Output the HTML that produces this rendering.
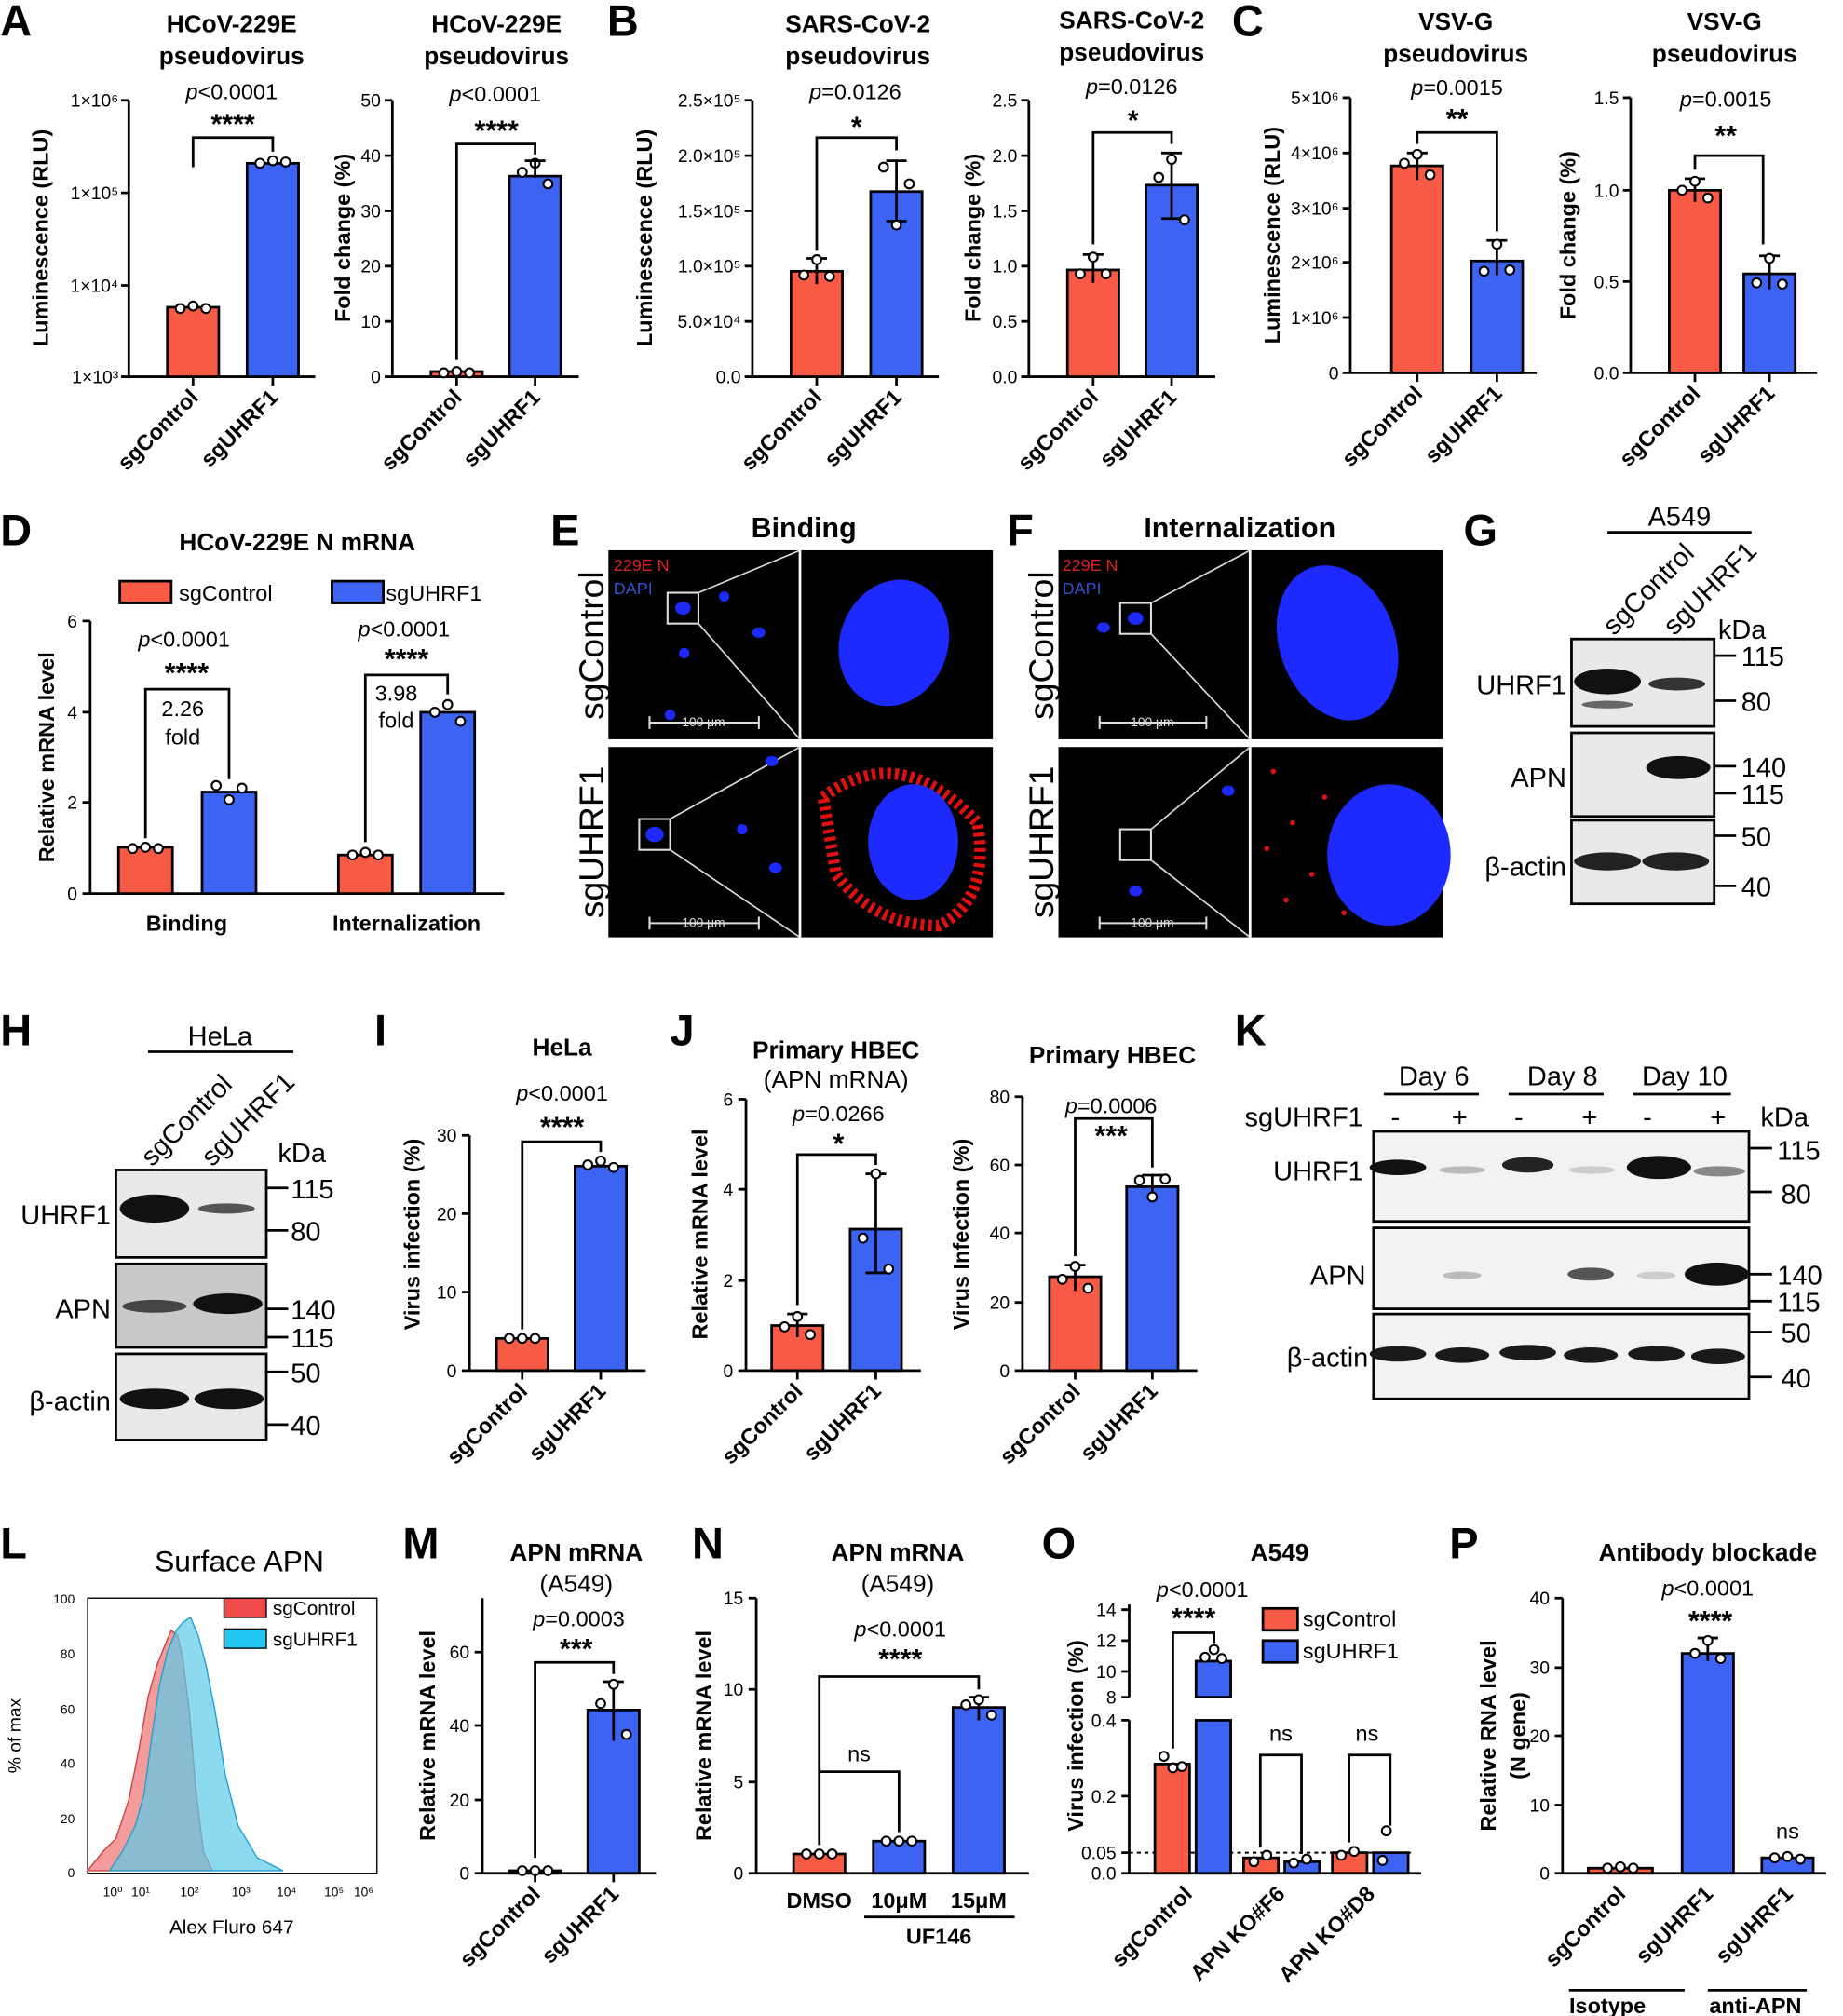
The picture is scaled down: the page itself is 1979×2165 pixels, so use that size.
<!DOCTYPE html>
<html><head><meta charset="utf-8"><style>
html,body{margin:0;padding:0;background:#fff}
svg{display:block}
text{font-family:"Liberation Sans",Arial,sans-serif;fill:#000}
.L{font-size:34px;font-weight:bold}
.t{font-size:19px;font-weight:bold}
.tk{font-size:14px}
.yl{font-size:17px;font-weight:bold}
.xl{font-size:17px;font-weight:bold}
.p{font-size:17px}
.s{font-size:22px;font-weight:bold}
.ax{stroke:#000;stroke-width:2;fill:none}
.r{fill:#f75b45;stroke:#000;stroke-width:2}
.b{fill:#3d63f2;stroke:#000;stroke-width:2}
.d{fill:#fff;stroke:#000;stroke-width:1.5}
.bl{font-size:21px}
</style></head><body>
<svg width="1979" height="2165" viewBox="0 0 1433 1568" xmlns="http://www.w3.org/2000/svg">
<!-- ================= A ================= -->
<text class="L" x="0" y="28">A</text>
<text class="t" x="180" y="25" text-anchor="middle">HCoV-229E</text>
<text class="t" x="180" y="50" text-anchor="middle">pseudovirus</text>
<path class="ax" d="M100 78V293H245M94 78H100M94 150H100M94 222H100M94 293H100"/>
<text class="tk" x="92" y="83" text-anchor="end">1×10⁶</text>
<text class="tk" x="92" y="155" text-anchor="end">1×10⁵</text>
<text class="tk" x="92" y="227" text-anchor="end">1×10⁴</text>
<text class="tk" x="92" y="298" text-anchor="end">1×10³</text>
<text class="yl" transform="translate(37,185) rotate(-90)" text-anchor="middle">Luminescence (RLU)</text>
<rect class="r" x="130" y="239" width="40" height="54"/><rect class="b" x="192" y="127" width="40" height="166"/>
<circle class="d" cx="140" cy="240" r="3.5"/><circle class="d" cx="150" cy="238" r="3.5"/><circle class="d" cx="160" cy="240" r="3.5"/>
<circle class="d" cx="202" cy="127" r="3.5"/><circle class="d" cx="212" cy="125" r="3.5"/><circle class="d" cx="222" cy="126" r="3.5"/>
<path class="ax" d="M150 130V107H212V118M150 293V300M212 293V300"/>
<text class="p" x="180" y="77" text-anchor="middle"><tspan font-style="italic">p</tspan>&lt;0.0001</text>
<text class="s" x="181" y="104" text-anchor="middle">****</text>
<text class="xl" transform="translate(155,310) rotate(-45)" text-anchor="end">sgControl</text>
<text class="xl" transform="translate(217,310) rotate(-45)" text-anchor="end">sgUHRF1</text>

<text class="t" x="386" y="25" text-anchor="middle">HCoV-229E</text>
<text class="t" x="386" y="50" text-anchor="middle">pseudovirus</text>
<path class="ax" d="M305 78V293H450M299 78H305M299 121H305M299 164H305M299 207H305M299 250H305M299 293H305"/>
<text class="tk" x="296" y="83" text-anchor="end">50</text><text class="tk" x="296" y="126" text-anchor="end">40</text><text class="tk" x="296" y="169" text-anchor="end">30</text><text class="tk" x="296" y="212" text-anchor="end">20</text><text class="tk" x="296" y="255" text-anchor="end">10</text><text class="tk" x="296" y="298" text-anchor="end">0</text>
<text class="yl" transform="translate(272,185) rotate(-90)" text-anchor="middle">Fold change (%)</text>
<rect class="r" x="335" y="289" width="40" height="4"/><rect class="b" x="396" y="137" width="40" height="156"/>
<circle class="d" cx="345" cy="290" r="3.5"/><circle class="d" cx="355" cy="289" r="3.5"/><circle class="d" cx="365" cy="290" r="3.5"/>
<circle class="d" cx="406" cy="134" r="3.5"/><circle class="d" cx="416" cy="127" r="3.5"/><circle class="d" cx="426" cy="143" r="3.5"/>
<path class="ax" d="M408 125H424M416 125V137"/>
<path class="ax" d="M355 280V112H416V120M355 293V300M416 293V300"/>
<text class="p" x="385" y="79" text-anchor="middle"><tspan font-style="italic">p</tspan>&lt;0.0001</text>
<text class="s" x="386" y="109" text-anchor="middle">****</text>
<text class="xl" transform="translate(360,310) rotate(-45)" text-anchor="end">sgControl</text>
<text class="xl" transform="translate(421,310) rotate(-45)" text-anchor="end">sgUHRF1</text>

<!-- ================= B ================= -->
<text class="L" x="472" y="28">B</text>
<text class="t" x="667" y="25" text-anchor="middle">SARS-CoV-2</text>
<text class="t" x="667" y="50" text-anchor="middle">pseudovirus</text>
<path class="ax" d="M585 78V293H730M579 78H585M579 121H585M579 164H585M579 207H585M579 250H585M579 293H585"/>
<text class="tk" x="576" y="83" text-anchor="end">2.5×10⁵</text><text class="tk" x="576" y="126" text-anchor="end">2.0×10⁵</text><text class="tk" x="576" y="169" text-anchor="end">1.5×10⁵</text><text class="tk" x="576" y="212" text-anchor="end">1.0×10⁵</text><text class="tk" x="576" y="255" text-anchor="end">5.0×10⁴</text><text class="tk" x="576" y="298" text-anchor="end">0.0</text>
<text class="yl" transform="translate(507,185) rotate(-90)" text-anchor="middle">Luminescence (RLU)</text>
<rect class="r" x="615" y="211" width="40" height="82"/><rect class="b" x="677" y="149" width="40" height="144"/>
<path class="ax" d="M627 201H643M635 201V221M689 125H705M697 125V172M689 172H705"/>
<circle class="d" cx="625" cy="214" r="3.5"/><circle class="d" cx="635" cy="202" r="3.5"/><circle class="d" cx="645" cy="215" r="3.5"/>
<circle class="d" cx="687" cy="130" r="3.5"/><circle class="d" cx="697" cy="175" r="3.5"/><circle class="d" cx="707" cy="143" r="3.5"/>
<path class="ax" d="M635 195V107H697V117M635 293V300M697 293V300"/>
<text class="p" x="665" y="77" text-anchor="middle"><tspan font-style="italic">p</tspan>=0.0126</text>
<text class="s" x="666" y="106" text-anchor="middle">*</text>
<text class="xl" transform="translate(640,310) rotate(-45)" text-anchor="end">sgControl</text>
<text class="xl" transform="translate(702,310) rotate(-45)" text-anchor="end">sgUHRF1</text>

<text class="t" x="880" y="22" text-anchor="middle">SARS-CoV-2</text>
<text class="t" x="880" y="47" text-anchor="middle">pseudovirus</text>
<path class="ax" d="M800 78V293H945M794 78H800M794 121H800M794 164H800M794 207H800M794 250H800M794 293H800"/>
<text class="tk" x="791" y="83" text-anchor="end">2.5</text><text class="tk" x="791" y="126" text-anchor="end">2.0</text><text class="tk" x="791" y="169" text-anchor="end">1.5</text><text class="tk" x="791" y="212" text-anchor="end">1.0</text><text class="tk" x="791" y="255" text-anchor="end">0.5</text><text class="tk" x="791" y="298" text-anchor="end">0.0</text>
<text class="yl" transform="translate(762,185) rotate(-90)" text-anchor="middle">Fold change (%)</text>
<rect class="r" x="830" y="210" width="40" height="83"/><rect class="b" x="891" y="144" width="40" height="149"/>
<path class="ax" d="M842 198H858M850 198V220M903 119H919M911 119V170M903 170H919"/>
<circle class="d" cx="840" cy="213" r="3.5"/><circle class="d" cx="850" cy="200" r="3.5"/><circle class="d" cx="860" cy="213" r="3.5"/>
<circle class="d" cx="901" cy="138" r="3.5"/><circle class="d" cx="911" cy="124" r="3.5"/><circle class="d" cx="921" cy="171" r="3.5"/>
<path class="ax" d="M850 190V103H911V112M850 293V300M911 293V300"/>
<text class="p" x="880" y="73" text-anchor="middle"><tspan font-style="italic">p</tspan>=0.0126</text>
<text class="s" x="881" y="101" text-anchor="middle">*</text>
<text class="xl" transform="translate(855,310) rotate(-45)" text-anchor="end">sgControl</text>
<text class="xl" transform="translate(916,310) rotate(-45)" text-anchor="end">sgUHRF1</text>

<!-- ================= C ================= -->
<text class="L" x="958" y="28">C</text>
<text class="t" x="1132" y="23" text-anchor="middle">VSV-G</text>
<text class="t" x="1132" y="48" text-anchor="middle">pseudovirus</text>
<path class="ax" d="M1050 76V290H1195M1044 76H1050M1044 119H1050M1044 162H1050M1044 204H1050M1044 247H1050M1044 290H1050"/>
<text class="tk" x="1041" y="81" text-anchor="end">5×10⁶</text><text class="tk" x="1041" y="124" text-anchor="end">4×10⁶</text><text class="tk" x="1041" y="167" text-anchor="end">3×10⁶</text><text class="tk" x="1041" y="209" text-anchor="end">2×10⁶</text><text class="tk" x="1041" y="252" text-anchor="end">1×10⁶</text><text class="tk" x="1041" y="295" text-anchor="end">0</text>
<text class="yl" transform="translate(995,183) rotate(-90)" text-anchor="middle">Luminescence (RLU)</text>
<rect class="r" x="1082" y="129" width="40" height="161"/><rect class="b" x="1144" y="203" width="40" height="87"/>
<path class="ax" d="M1094 119H1110M1102 119V140M1156 187H1172M1164 187V214"/>
<circle class="d" cx="1092" cy="127" r="3.5"/><circle class="d" cx="1102" cy="120" r="3.5"/><circle class="d" cx="1112" cy="136" r="3.5"/>
<circle class="d" cx="1154" cy="211" r="3.5"/><circle class="d" cx="1164" cy="190" r="3.5"/><circle class="d" cx="1174" cy="210" r="3.5"/>
<path class="ax" d="M1102 112V103H1164V180M1102 290V297M1164 290V297"/>
<text class="p" x="1133" y="74" text-anchor="middle"><tspan font-style="italic">p</tspan>=0.0015</text>
<text class="s" x="1133" y="100" text-anchor="middle">**</text>
<text class="xl" transform="translate(1107,307) rotate(-45)" text-anchor="end">sgControl</text>
<text class="xl" transform="translate(1169,307) rotate(-45)" text-anchor="end">sgUHRF1</text>

<text class="t" x="1341" y="23" text-anchor="middle">VSV-G</text>
<text class="t" x="1341" y="48" text-anchor="middle">pseudovirus</text>
<path class="ax" d="M1268 76V290H1413M1262 76H1268M1262 148H1268M1262 219H1268M1262 290H1268"/>
<text class="tk" x="1259" y="81" text-anchor="end">1.5</text><text class="tk" x="1259" y="153" text-anchor="end">1.0</text><text class="tk" x="1259" y="224" text-anchor="end">0.5</text><text class="tk" x="1259" y="295" text-anchor="end">0.0</text>
<text class="yl" transform="translate(1225,183) rotate(-90)" text-anchor="middle">Fold change (%)</text>
<rect class="r" x="1298" y="148" width="40" height="142"/><rect class="b" x="1356" y="213" width="40" height="77"/>
<path class="ax" d="M1310 139H1326M1318 139V157M1368 199H1384M1376 199V225"/>
<circle class="d" cx="1308" cy="148" r="3.5"/><circle class="d" cx="1318" cy="141" r="3.5"/><circle class="d" cx="1328" cy="154" r="3.5"/>
<circle class="d" cx="1366" cy="220" r="3.5"/><circle class="d" cx="1376" cy="201" r="3.5"/><circle class="d" cx="1386" cy="221" r="3.5"/>
<path class="ax" d="M1318 132V121H1371V190M1318 290V297M1376 290V297"/>
<text class="p" x="1342" y="83" text-anchor="middle"><tspan font-style="italic">p</tspan>=0.0015</text>
<text class="s" x="1342" y="113" text-anchor="middle">**</text>
<text class="xl" transform="translate(1323,307) rotate(-45)" text-anchor="end">sgControl</text>
<text class="xl" transform="translate(1381,307) rotate(-45)" text-anchor="end">sgUHRF1</text>

<!-- ================= D ================= -->
<text class="L" x="0" y="424">D</text>
<text class="t" x="231" y="428" text-anchor="middle">HCoV-229E N mRNA</text>
<rect class="r" x="93" y="452" width="40" height="17"/><text class="p" x="139" y="467">sgControl</text>
<rect class="b" x="258" y="452" width="40" height="17"/><text class="p" x="300" y="467">sgUHRF1</text>
<path class="ax" d="M70 483V695H392M64 483H70M64 554H70M64 624H70M64 695H70"/>
<text class="tk" x="60" y="488" text-anchor="end">6</text><text class="tk" x="60" y="559" text-anchor="end">4</text><text class="tk" x="60" y="629" text-anchor="end">2</text><text class="tk" x="60" y="700" text-anchor="end">0</text>
<text class="yl" transform="translate(42,589) rotate(-90)" text-anchor="middle">Relative mRNA level</text>
<rect class="r" x="92" y="659" width="42" height="36"/><rect class="b" x="157" y="616" width="42" height="79"/>
<rect class="r" x="263" y="665" width="42" height="30"/><rect class="b" x="327" y="554" width="42" height="141"/>
<circle class="d" cx="103" cy="660" r="3.5"/><circle class="d" cx="113" cy="659" r="3.5"/><circle class="d" cx="123" cy="660" r="3.5"/>
<circle class="d" cx="168" cy="611" r="3.5"/><circle class="d" cx="178" cy="622" r="3.5"/><circle class="d" cx="188" cy="613" r="3.5"/>
<circle class="d" cx="274" cy="665" r="3.5"/><circle class="d" cx="284" cy="663" r="3.5"/><circle class="d" cx="294" cy="665" r="3.5"/>
<circle class="d" cx="338" cy="554" r="3.5"/><circle class="d" cx="348" cy="548" r="3.5"/><circle class="d" cx="358" cy="561" r="3.5"/>
<path class="ax" d="M113 652V536H178V606M284 655V525H348V540"/>
<text class="p" x="142" y="557" text-anchor="middle">2.26</text><text class="p" x="142" y="579" text-anchor="middle">fold</text>
<text class="p" x="308" y="545" text-anchor="middle">3.98</text><text class="p" x="308" y="566" text-anchor="middle">fold</text>
<text class="p" x="143" y="503" text-anchor="middle"><tspan font-style="italic">p</tspan>&lt;0.0001</text>
<text class="s" x="145" y="531" text-anchor="middle">****</text>
<text class="p" x="314" y="495" text-anchor="middle"><tspan font-style="italic">p</tspan>&lt;0.0001</text>
<text class="s" x="316" y="520" text-anchor="middle">****</text>
<text class="xl" x="145" y="724" text-anchor="middle">Binding</text>
<text class="xl" x="316" y="724" text-anchor="middle">Internalization</text>

<!-- ================= E ================= -->
<text class="L" x="428" y="424">E</text>
<text class="t" x="625" y="418" text-anchor="middle" style="font-size:22px">Binding</text>
<rect x="473" y="428" width="299" height="147" fill="#000"/>
<rect x="473" y="581" width="299" height="148" fill="#000"/>
<line x1="622" y1="428" x2="622" y2="729" stroke="#fff" stroke-width="2"/>
<text x="477" y="444" style="font-size:13px;fill:#e02020">229E N</text>
<text x="477" y="462" style="font-size:13px;fill:#3050d0">DAPI</text>
<rect x="519" y="461" width="24" height="24" fill="none" stroke="#ddd" stroke-width="1.5"/>
<path d="M543 461L622 428M543 485L622 575" stroke="#ddd" stroke-width="1.2"/>
<ellipse cx="531" cy="473" rx="6" ry="5" fill="#1c2aff"/><ellipse cx="563" cy="464" rx="4" ry="4" fill="#1c2aff"/><ellipse cx="590" cy="492" rx="5" ry="4" fill="#1c2aff"/><ellipse cx="532" cy="508" rx="4" ry="4" fill="#1c2aff"/><ellipse cx="521" cy="556" rx="4" ry="4" fill="#1c2aff"/>
<ellipse cx="695" cy="500" rx="42" ry="50" fill="#1c2aff" transform="rotate(20 695 500)"/>
<path d="M505 562H590M505 557V567M590 557V567" stroke="#ddd" stroke-width="1.5"/>
<text x="547" y="565" text-anchor="middle" style="font-size:10px;fill:#ddd">100 μm</text>
<rect x="497" y="637" width="24" height="24" fill="none" stroke="#ddd" stroke-width="1.5"/>
<path d="M521 637L622 581M521 661L622 729" stroke="#ddd" stroke-width="1.2"/>
<ellipse cx="509" cy="649" rx="7" ry="6" fill="#1c2aff"/><ellipse cx="600" cy="592" rx="5" ry="4" fill="#1c2aff"/><ellipse cx="577" cy="645" rx="4" ry="4" fill="#1c2aff"/><ellipse cx="603" cy="675" rx="5" ry="4" fill="#1c2aff"/>
<path d="M640 620Q700 575 760 640Q770 700 730 720Q680 720 650 680Z" fill="none" stroke="#e01010" stroke-width="9" stroke-dasharray="3 3"/>
<ellipse cx="710" cy="655" rx="35" ry="45" fill="#1c2aff"/>
<path d="M505 718H590M505 713V723M590 713V723" stroke="#ddd" stroke-width="1.5"/>
<text x="547" y="721" text-anchor="middle" style="font-size:10px;fill:#ddd">100 μm</text>
<text transform="translate(469,502) rotate(-90)" text-anchor="middle" style="font-size:27px">sgControl</text>
<text transform="translate(469,655) rotate(-90)" text-anchor="middle" style="font-size:27px">sgUHRF1</text>

<!-- ================= F ================= -->
<text class="L" x="783" y="424">F</text>
<text class="t" x="964" y="418" text-anchor="middle" style="font-size:22px">Internalization</text>
<rect x="823" y="428" width="299" height="147" fill="#000"/>
<rect x="823" y="581" width="299" height="148" fill="#000"/>
<line x1="972" y1="428" x2="972" y2="729" stroke="#fff" stroke-width="2"/>
<text x="826" y="444" style="font-size:13px;fill:#e02020">229E N</text>
<text x="826" y="462" style="font-size:13px;fill:#3050d0">DAPI</text>
<rect x="871" y="469" width="24" height="24" fill="none" stroke="#ddd" stroke-width="1.5"/>
<path d="M895 469L972 428M895 493L972 575" stroke="#ddd" stroke-width="1.2"/>
<ellipse cx="883" cy="481" rx="6" ry="5" fill="#1c2aff"/><ellipse cx="858" cy="488" rx="5" ry="4" fill="#1c2aff"/>
<ellipse cx="1040" cy="500" rx="45" ry="62" fill="#1c2aff" transform="rotate(-20 1040 500)"/>
<path d="M855 562H938M855 557V567M938 557V567" stroke="#ddd" stroke-width="1.5"/>
<text x="896" y="565" text-anchor="middle" style="font-size:10px;fill:#ddd">100 μm</text>
<rect x="871" y="645" width="24" height="24" fill="none" stroke="#ddd" stroke-width="1.5"/>
<path d="M895 645L972 581M895 669L972 729" stroke="#ddd" stroke-width="1.2"/>
<ellipse cx="955" cy="615" rx="5" ry="4" fill="#1c2aff"/><ellipse cx="883" cy="693" rx="5" ry="4" fill="#1c2aff"/>
<ellipse cx="1080" cy="665" rx="48" ry="55" fill="#1c2aff"/>
<g fill="#e01010"><circle cx="990" cy="600" r="2"/><circle cx="1005" cy="640" r="2"/><circle cx="1030" cy="620" r="2"/><circle cx="1000" cy="700" r="2"/><circle cx="1045" cy="710" r="2"/><circle cx="985" cy="660" r="2"/><circle cx="1020" cy="680" r="2"/></g>
<path d="M855 718H938M855 713V723M938 713V723" stroke="#ddd" stroke-width="1.5"/>
<text x="896" y="721" text-anchor="middle" style="font-size:10px;fill:#ddd">100 μm</text>
<text transform="translate(819,502) rotate(-90)" text-anchor="middle" style="font-size:27px">sgControl</text>
<text transform="translate(819,655) rotate(-90)" text-anchor="middle" style="font-size:27px">sgUHRF1</text>

<!-- ================= G ================= -->
<text class="L" x="1138" y="424">G</text>
<text class="bl" x="1306" y="409" text-anchor="middle">A549</text>
<line x1="1250" y1="414" x2="1362" y2="414" stroke="#000" stroke-width="2"/>
<text class="bl" transform="translate(1255,495) rotate(-45)">sgControl</text>
<text class="bl" transform="translate(1302,495) rotate(-45)">sgUHRF1</text>
<text class="bl" x="1336" y="497">kDa</text>
<rect x="1222" y="497" width="111" height="68" fill="#e9e9e9" stroke="#000" stroke-width="2"/>
<rect x="1222" y="570" width="111" height="65" fill="#e9e9e9" stroke="#000" stroke-width="2"/>
<rect x="1222" y="638" width="111" height="65" fill="#e9e9e9" stroke="#000" stroke-width="2"/>
<ellipse cx="1250" cy="530" rx="26" ry="10" fill="#111"/><ellipse cx="1250" cy="548" rx="20" ry="3" fill="#666"/><ellipse cx="1304" cy="532" rx="22" ry="5" fill="#333"/>
<ellipse cx="1305" cy="597" rx="25" ry="9" fill="#111"/>
<ellipse cx="1250" cy="670" rx="26" ry="7" fill="#222"/><ellipse cx="1303" cy="670" rx="26" ry="7" fill="#222"/>
<text class="bl" x="1218" y="540" text-anchor="end">UHRF1</text>
<text class="bl" x="1218" y="612" text-anchor="end">APN</text>
<text class="bl" x="1218" y="681" text-anchor="end">β-actin</text>
<path class="ax" d="M1333 510H1350M1333 545H1350M1333 596H1350M1333 617H1350M1333 650H1350M1333 689H1350"/>
<text class="bl" x="1354" y="518">115</text><text class="bl" x="1354" y="553">80</text><text class="bl" x="1354" y="604">140</text><text class="bl" x="1354" y="625">115</text><text class="bl" x="1354" y="658">50</text><text class="bl" x="1354" y="697">40</text>

<!-- ================= H ================= -->
<text class="L" x="0" y="813">H</text>
<text class="bl" x="171" y="813" text-anchor="middle">HeLa</text>
<line x1="115" y1="818" x2="228" y2="818" stroke="#000" stroke-width="2"/>
<text class="bl" transform="translate(118,908) rotate(-45)">sgControl</text>
<text class="bl" transform="translate(165,908) rotate(-45)">sgUHRF1</text>
<text class="bl" x="216" y="904">kDa</text>
<rect x="90" y="910" width="117" height="68" fill="#e9e9e9" stroke="#000" stroke-width="2"/>
<rect x="90" y="983" width="117" height="65" fill="#c9c9c9" stroke="#000" stroke-width="2"/>
<rect x="90" y="1053" width="117" height="67" fill="#e9e9e9" stroke="#000" stroke-width="2"/>
<ellipse cx="120" cy="940" rx="27" ry="11" fill="#111"/><ellipse cx="176" cy="940" rx="22" ry="4" fill="#555"/>
<ellipse cx="120" cy="1016" rx="25" ry="5" fill="#444"/><ellipse cx="177" cy="1014" rx="27" ry="8" fill="#111"/>
<ellipse cx="120" cy="1088" rx="27" ry="8" fill="#111"/><ellipse cx="178" cy="1088" rx="27" ry="8" fill="#111"/>
<text class="bl" x="86" y="952" text-anchor="end">UHRF1</text>
<text class="bl" x="86" y="1025" text-anchor="end">APN</text>
<text class="bl" x="86" y="1097" text-anchor="end">β-actin</text>
<path class="ax" d="M207 924H224M207 957H224M207 1018H224M207 1040H224M207 1067H224M207 1108H224"/>
<text class="bl" x="226" y="932">115</text><text class="bl" x="226" y="965">80</text><text class="bl" x="226" y="1026">140</text><text class="bl" x="226" y="1048">115</text><text class="bl" x="226" y="1075">50</text><text class="bl" x="226" y="1116">40</text>

<!-- ================= I ================= -->
<text class="L" x="291" y="813">I</text>
<text class="t" x="437" y="821" text-anchor="middle">HeLa</text>
<path class="ax" d="M365 883V1066H502M359 883H365M359 944H365M359 1005H365M359 1066H365"/>
<text class="tk" x="355" y="888" text-anchor="end">30</text><text class="tk" x="355" y="949" text-anchor="end">20</text><text class="tk" x="355" y="1010" text-anchor="end">10</text><text class="tk" x="355" y="1071" text-anchor="end">0</text>
<text class="yl" transform="translate(326,960) rotate(-90)" text-anchor="middle">Virus infection (%)</text>
<rect class="r" x="386" y="1041" width="40" height="25"/><rect class="b" x="447" y="907" width="40" height="159"/>
<circle class="d" cx="396" cy="1041" r="3.5"/><circle class="d" cx="406" cy="1041" r="3.5"/><circle class="d" cx="416" cy="1041" r="3.5"/>
<circle class="d" cx="457" cy="906" r="3.5"/><circle class="d" cx="467" cy="903" r="3.5"/><circle class="d" cx="477" cy="908" r="3.5"/>
<path class="ax" d="M406 1034V888H467V896M406 1066V1073M467 1066V1073"/>
<text class="p" x="437" y="856" text-anchor="middle"><tspan font-style="italic">p</tspan>&lt;0.0001</text>
<text class="s" x="437" y="884" text-anchor="middle">****</text>
<text class="xl" transform="translate(411,1083) rotate(-45)" text-anchor="end">sgControl</text>
<text class="xl" transform="translate(472,1083) rotate(-45)" text-anchor="end">sgUHRF1</text>

<!-- ================= J ================= -->
<text class="L" x="521" y="813">J</text>
<text class="t" x="650" y="823" text-anchor="middle">Primary HBEC</text>
<text class="p" x="650" y="846" text-anchor="middle" style="font-size:19px">(APN mRNA)</text>
<path class="ax" d="M580 855V1066H716M574 855H580M574 925H580M574 996H580M574 1066H580"/>
<text class="tk" x="570" y="860" text-anchor="end">6</text><text class="tk" x="570" y="930" text-anchor="end">4</text><text class="tk" x="570" y="1001" text-anchor="end">2</text><text class="tk" x="570" y="1071" text-anchor="end">0</text>
<text class="yl" transform="translate(550,960) rotate(-90)" text-anchor="middle">Relative mRNA level</text>
<rect class="r" x="600" y="1031" width="40" height="35"/><rect class="b" x="661" y="956" width="40" height="110"/>
<path class="ax" d="M612 1022H628M620 1022V1040M673 913H689M681 913V990M673 990H689"/>
<circle class="d" cx="610" cy="1032" r="3.5"/><circle class="d" cx="620" cy="1024" r="3.5"/><circle class="d" cx="630" cy="1038" r="3.5"/>
<circle class="d" cx="671" cy="963" r="3.5"/><circle class="d" cx="681" cy="913" r="3.5"/><circle class="d" cx="691" cy="987" r="3.5"/>
<path class="ax" d="M620 1015V898H681V906M620 1066V1073M681 1066V1073"/>
<text class="p" x="652" y="872" text-anchor="middle"><tspan font-style="italic">p</tspan>=0.0266</text>
<text class="s" x="652" y="897" text-anchor="middle">*</text>
<text class="xl" transform="translate(625,1083) rotate(-45)" text-anchor="end">sgControl</text>
<text class="xl" transform="translate(686,1083) rotate(-45)" text-anchor="end">sgUHRF1</text>

<text class="t" x="865" y="827" text-anchor="middle">Primary HBEC</text>
<path class="ax" d="M795 853V1066H931M789 853H795M789 906H795M789 959H795M789 1013H795M789 1066H795"/>
<text class="tk" x="785" y="858" text-anchor="end">80</text><text class="tk" x="785" y="911" text-anchor="end">60</text><text class="tk" x="785" y="964" text-anchor="end">40</text><text class="tk" x="785" y="1018" text-anchor="end">20</text><text class="tk" x="785" y="1071" text-anchor="end">0</text>
<text class="yl" transform="translate(753,960) rotate(-90)" text-anchor="middle">Virus Infection (%)</text>
<rect class="r" x="816" y="993" width="40" height="73"/><rect class="b" x="876" y="923" width="40" height="143"/>
<path class="ax" d="M828 984H844M836 984V1004M888 914H904M896 914V932"/>
<circle class="d" cx="826" cy="995" r="3.5"/><circle class="d" cx="836" cy="985" r="3.5"/><circle class="d" cx="846" cy="1002" r="3.5"/>
<circle class="d" cx="886" cy="918" r="3.5"/><circle class="d" cx="896" cy="931" r="3.5"/><circle class="d" cx="906" cy="917" r="3.5"/>
<path class="ax" d="M836 977V870H896V908M836 1066V1073M896 1066V1073"/>
<text class="p" x="864" y="866" text-anchor="middle"><tspan font-style="italic">p</tspan>=0.0006</text>
<text class="s" x="864" y="891" text-anchor="middle">***</text>
<text class="xl" transform="translate(841,1083) rotate(-45)" text-anchor="end">sgControl</text>
<text class="xl" transform="translate(901,1083) rotate(-45)" text-anchor="end">sgUHRF1</text>

<!-- ================= K ================= -->
<text class="L" x="960" y="813">K</text>
<text class="bl" x="1115" y="844" text-anchor="middle">Day 6</text>
<text class="bl" x="1215" y="844" text-anchor="middle">Day 8</text>
<text class="bl" x="1310" y="844" text-anchor="middle">Day 10</text>
<path class="ax" d="M1076 851H1150M1173 851H1247M1270 851H1346"/>
<text class="bl" x="1060" y="876" text-anchor="end">sgUHRF1</text>
<text class="bl" x="1085" y="876" text-anchor="middle">-</text><text class="bl" x="1135" y="876" text-anchor="middle">+</text>
<text class="bl" x="1181" y="876" text-anchor="middle">-</text><text class="bl" x="1236" y="876" text-anchor="middle">+</text>
<text class="bl" x="1281" y="876" text-anchor="middle">-</text><text class="bl" x="1336" y="876" text-anchor="middle">+</text>
<text class="bl" x="1369" y="876">kDa</text>
<rect x="1068" y="880" width="292" height="70" fill="#f2f2f2" stroke="#000" stroke-width="2"/>
<rect x="1068" y="955" width="292" height="63" fill="#f2f2f2" stroke="#000" stroke-width="2"/>
<rect x="1068" y="1022" width="292" height="66" fill="#f2f2f2" stroke="#000" stroke-width="2"/>
<ellipse cx="1087" cy="908" rx="22" ry="6" fill="#111"/><ellipse cx="1137" cy="910" rx="18" ry="3" fill="#bbb"/>
<ellipse cx="1188" cy="906" rx="20" ry="6" fill="#222"/><ellipse cx="1238" cy="910" rx="18" ry="3" fill="#ccc"/>
<ellipse cx="1290" cy="908" rx="25" ry="9" fill="#111"/><ellipse cx="1337" cy="911" rx="20" ry="4" fill="#888"/>
<ellipse cx="1137" cy="992" rx="15" ry="3" fill="#bbb"/><ellipse cx="1237" cy="991" rx="18" ry="5" fill="#555"/>
<ellipse cx="1288" cy="992" rx="15" ry="3" fill="#ccc"/><ellipse cx="1335" cy="991" rx="25" ry="9" fill="#111"/>
<g fill="#1a1a1a"><ellipse cx="1087" cy="1053" rx="22" ry="6"/><ellipse cx="1137" cy="1054" rx="21" ry="6"/><ellipse cx="1188" cy="1052" rx="22" ry="6"/><ellipse cx="1237" cy="1054" rx="21" ry="6"/><ellipse cx="1288" cy="1053" rx="22" ry="6"/><ellipse cx="1336" cy="1055" rx="21" ry="6"/></g>
<text class="bl" x="1060" y="918" text-anchor="end">UHRF1</text>
<text class="bl" x="1062" y="999" text-anchor="end">APN</text>
<text class="bl" x="1064" y="1063" text-anchor="end">β-actin</text>
<path class="ax" d="M1360 893H1378M1360 927H1378M1360 991H1378M1360 1012H1378M1360 1036H1378M1360 1071H1378"/>
<text class="bl" x="1382" y="902">115</text><text class="bl" x="1385" y="936">80</text><text class="bl" x="1382" y="999">140</text><text class="bl" x="1382" y="1020">115</text><text class="bl" x="1385" y="1044">50</text><text class="bl" x="1385" y="1079">40</text>

<!-- ================= L ================= -->
<text class="L" x="0" y="1212">L</text>
<text x="186" y="1222" text-anchor="middle" style="font-size:23px">Surface APN</text>
<rect x="68" y="1243" width="225" height="214" fill="none" stroke="#000" stroke-width="1"/>
<g class="tk" style="font-size:10px"><text x="58" y="1247" text-anchor="end" style="font-size:10px">100</text><text x="58" y="1290" text-anchor="end" style="font-size:10px">80</text><text x="58" y="1333" text-anchor="end" style="font-size:10px">60</text><text x="58" y="1375" text-anchor="end" style="font-size:10px">40</text><text x="58" y="1418" text-anchor="end" style="font-size:10px">20</text><text x="58" y="1460" text-anchor="end" style="font-size:10px">0</text></g>
<text transform="translate(16,1350) rotate(-90)" text-anchor="middle" style="font-size:14px">% of max</text>
<path d="M68 1455L80 1440L90 1430L100 1400L108 1360L115 1320L122 1295L128 1280L133 1268L138 1272L142 1290L147 1330L152 1390L158 1440L165 1455Z" fill="#f07a7a" fill-opacity="0.75" stroke="#d04040"/>
<path d="M85 1455L95 1440L105 1420L112 1395L118 1350L124 1310L130 1285L137 1268L142 1262L148 1258L154 1272L160 1295L167 1330L175 1380L185 1420L200 1445L220 1455Z" fill="#5ccbe8" fill-opacity="0.7" stroke="#20a0d0"/>
<g style="font-size:10px"><text x="80" y="1475" style="font-size:10px">10⁰</text><text x="102" y="1475" style="font-size:10px">10¹</text><text x="140" y="1475" style="font-size:10px">10²</text><text x="180" y="1475" style="font-size:10px">10³</text><text x="215" y="1475" style="font-size:10px">10⁴</text><text x="252" y="1475" style="font-size:10px">10⁵</text><text x="275" y="1475" style="font-size:10px">10⁶</text></g>
<text x="180" y="1504" text-anchor="middle" style="font-size:15px">Alex Fluro 647</text>
<rect x="174" y="1243" width="33" height="15" fill="#f04a4a" stroke="#000"/><text x="212" y="1256" style="font-size:15px">sgControl</text>
<rect x="174" y="1267" width="33" height="15" fill="#22c6f0" stroke="#000"/><text x="212" y="1280" style="font-size:15px">sgUHRF1</text>

<!-- ================= M ================= -->
<text class="L" x="313" y="1212">M</text>
<text class="t" x="448" y="1214" text-anchor="middle">APN mRNA</text>
<text class="p" x="448" y="1238" text-anchor="middle" style="font-size:19px">(A549)</text>
<path class="ax" d="M375 1243V1457H510M369 1285H375M369 1342H375M369 1400H375M369 1457H375"/>
<text class="tk" x="365" y="1290" text-anchor="end">60</text><text class="tk" x="365" y="1347" text-anchor="end">40</text><text class="tk" x="365" y="1405" text-anchor="end">20</text><text class="tk" x="365" y="1462" text-anchor="end">0</text>
<text class="yl" transform="translate(338,1350) rotate(-90)" text-anchor="middle">Relative mRNA level</text>
<rect class="r" x="396" y="1455" width="40" height="2"/><rect class="b" x="457" y="1330" width="40" height="127"/>
<path class="ax" d="M469 1308H485M477 1308V1354"/>
<circle class="d" cx="406" cy="1455" r="3.5"/><circle class="d" cx="416" cy="1455" r="3.5"/><circle class="d" cx="426" cy="1455" r="3.5"/>
<circle class="d" cx="467" cy="1325" r="3.5"/><circle class="d" cx="477" cy="1310" r="3.5"/><circle class="d" cx="487" cy="1349" r="3.5"/>
<path class="ax" d="M416 1445V1293H477V1302M416 1457V1464M477 1457V1464"/>
<text class="p" x="450" y="1265" text-anchor="middle"><tspan font-style="italic">p</tspan>=0.0003</text>
<text class="s" x="448" y="1290" text-anchor="middle">***</text>
<text class="xl" transform="translate(421,1474) rotate(-45)" text-anchor="end">sgControl</text>
<text class="xl" transform="translate(482,1474) rotate(-45)" text-anchor="end">sgUHRF1</text>

<!-- ================= N ================= -->
<text class="L" x="538" y="1212">N</text>
<text class="t" x="698" y="1214" text-anchor="middle">APN mRNA</text>
<text class="p" x="698" y="1238" text-anchor="middle" style="font-size:19px">(A549)</text>
<path class="ax" d="M588 1243V1457H800M582 1243H588M582 1314H588M582 1386H588M582 1457H588"/>
<text class="tk" x="578" y="1248" text-anchor="end">15</text><text class="tk" x="578" y="1319" text-anchor="end">10</text><text class="tk" x="578" y="1391" text-anchor="end">5</text><text class="tk" x="578" y="1462" text-anchor="end">0</text>
<text class="yl" transform="translate(553,1350) rotate(-90)" text-anchor="middle">Relative mRNA level</text>
<rect class="r" x="617" y="1442" width="40" height="15"/><rect class="b" x="679" y="1432" width="40" height="25"/><rect class="b" x="741" y="1328" width="40" height="129"/>
<path class="ax" d="M753 1320H769M761 1320V1338"/>
<circle class="d" cx="627" cy="1442" r="3.5"/><circle class="d" cx="637" cy="1442" r="3.5"/><circle class="d" cx="647" cy="1442" r="3.5"/>
<circle class="d" cx="689" cy="1432" r="3.5"/><circle class="d" cx="699" cy="1432" r="3.5"/><circle class="d" cx="709" cy="1432" r="3.5"/>
<circle class="d" cx="751" cy="1326" r="3.5"/><circle class="d" cx="761" cy="1322" r="3.5"/><circle class="d" cx="771" cy="1334" r="3.5"/>
<path class="ax" d="M637 1435V1378H699V1425M637 1428V1304H761V1314"/>
<text class="p" x="668" y="1370" text-anchor="middle">ns</text>
<text class="p" x="700" y="1273" text-anchor="middle"><tspan font-style="italic">p</tspan>&lt;0.0001</text>
<text class="s" x="700" y="1298" text-anchor="middle">****</text>
<text class="xl" x="637" y="1484" text-anchor="middle">DMSO</text>
<text class="xl" x="699" y="1484" text-anchor="middle">10μM</text>
<text class="xl" x="761" y="1484" text-anchor="middle">15μM</text>
<line x1="672" y1="1491" x2="789" y2="1491" stroke="#000" stroke-width="2"/>
<text class="xl" x="730" y="1512" text-anchor="middle">UF146</text>

<!-- ================= O ================= -->
<text class="L" x="810" y="1212">O</text>
<text class="t" x="995" y="1214" text-anchor="middle">A549</text>
<path class="ax" d="M878 1248V1320M878 1338V1457H1105M872 1252H878M872 1276H878M872 1300H878M872 1320H878M872 1338H878M872 1397H878M872 1441H878M872 1457H878"/>
<text class="tk" x="868" y="1257" text-anchor="end">14</text><text class="tk" x="868" y="1281" text-anchor="end">12</text><text class="tk" x="868" y="1305" text-anchor="end">10</text><text class="tk" x="868" y="1325" text-anchor="end">8</text><text class="tk" x="868" y="1343" text-anchor="end">0.4</text><text class="tk" x="868" y="1402" text-anchor="end">0.2</text><text class="tk" x="868" y="1446" text-anchor="end">0.05</text><text class="tk" x="868" y="1462" text-anchor="end">0.0</text>
<text class="yl" transform="translate(842,1350) rotate(-90)" text-anchor="middle">Virus infection (%)</text>
<line x1="878" y1="1441" x2="1100" y2="1441" stroke="#000" stroke-width="1.5" stroke-dasharray="3 3"/>
<rect class="r" x="898" y="1372" width="27" height="85"/>
<rect class="b" x="930" y="1292" width="27" height="28"/><rect class="b" x="930" y="1338" width="27" height="119"/>
<rect class="r" x="967" y="1445" width="27" height="12"/><rect class="b" x="999" y="1448" width="27" height="9"/>
<rect class="r" x="1036" y="1441" width="27" height="16"/><rect class="b" x="1068" y="1441" width="27" height="16"/>
<circle class="d" cx="905" cy="1366" r="3.5"/><circle class="d" cx="912" cy="1375" r="3.5"/><circle class="d" cx="919" cy="1374" r="3.5"/>
<circle class="d" cx="937" cy="1289" r="3.5"/><circle class="d" cx="944" cy="1283" r="3.5"/><circle class="d" cx="950" cy="1290" r="3.5"/>
<circle class="d" cx="975" cy="1448" r="3.5"/><circle class="d" cx="985" cy="1443" r="3.5"/><circle class="d" cx="1006" cy="1449" r="3.5"/><circle class="d" cx="1016" cy="1446" r="3.5"/>
<circle class="d" cx="1043" cy="1443" r="3.5"/><circle class="d" cx="1053" cy="1440" r="3.5"/><circle class="d" cx="1075" cy="1447" r="3.5"/><circle class="d" cx="1078" cy="1424" r="3.5"/>
<path class="ax" d="M912 1360V1270H944V1278M980 1437V1365H1012V1442M1049 1433V1365H1081V1420"/>
<text class="p" x="996" y="1354" text-anchor="middle">ns</text><text class="p" x="1063" y="1354" text-anchor="middle">ns</text>
<text class="p" x="935" y="1242" text-anchor="middle"><tspan font-style="italic">p</tspan>&lt;0.0001</text>
<text class="s" x="928" y="1266" text-anchor="middle">****</text>
<rect class="r" x="982" y="1251" width="27" height="17"/><text class="p" x="1013" y="1265">sgControl</text>
<rect class="b" x="982" y="1276" width="27" height="17"/><text class="p" x="1013" y="1290">sgUHRF1</text>
<text class="xl" transform="translate(928,1474) rotate(-45)" text-anchor="end">sgControl</text>
<text class="xl" transform="translate(1000,1474) rotate(-45)" text-anchor="end">APN KO#F6</text>
<text class="xl" transform="translate(1070,1474) rotate(-45)" text-anchor="end">APN KO#D8</text>

<!-- ================= P ================= -->
<text class="L" x="1127" y="1212">P</text>
<text class="t" x="1328" y="1214" text-anchor="middle">Antibody blockade</text>
<path class="ax" d="M1215 1243V1457H1420M1209 1243H1215M1209 1297H1215M1209 1350H1215M1209 1404H1215M1209 1457H1215"/>
<text class="tk" x="1205" y="1248" text-anchor="end">40</text><text class="tk" x="1205" y="1302" text-anchor="end">30</text><text class="tk" x="1205" y="1355" text-anchor="end">20</text><text class="tk" x="1205" y="1409" text-anchor="end">10</text><text class="tk" x="1205" y="1462" text-anchor="end">0</text>
<text class="yl" transform="translate(1163,1350) rotate(-90)" text-anchor="middle">Relative RNA level</text>
<text class="yl" transform="translate(1186,1350) rotate(-90)" text-anchor="middle">(N gene)</text>
<rect class="r" x="1235" y="1453" width="50" height="4"/><rect class="b" x="1308" y="1286" width="40" height="171"/><rect class="b" x="1370" y="1445" width="40" height="12"/>
<path class="ax" d="M1320 1274H1336M1328 1274V1292"/>
<circle class="d" cx="1250" cy="1453" r="3.5"/><circle class="d" cx="1260" cy="1452" r="3.5"/><circle class="d" cx="1270" cy="1453" r="3.5"/>
<circle class="d" cx="1318" cy="1286" r="3.5"/><circle class="d" cx="1328" cy="1276" r="3.5"/><circle class="d" cx="1338" cy="1290" r="3.5"/>
<circle class="d" cx="1380" cy="1445" r="3.5"/><circle class="d" cx="1390" cy="1444" r="3.5"/><circle class="d" cx="1400" cy="1446" r="3.5"/>
<text class="p" x="1328" y="1241" text-anchor="middle"><tspan font-style="italic">p</tspan>&lt;0.0001</text>
<text class="s" x="1330" y="1268" text-anchor="middle">****</text>
<text class="p" x="1390" y="1430" text-anchor="middle">ns</text>
<text class="xl" transform="translate(1265,1474) rotate(-45)" text-anchor="end">sgControl</text>
<text class="xl" transform="translate(1333,1474) rotate(-45)" text-anchor="end">sgUHRF1</text>
<text class="xl" transform="translate(1395,1474) rotate(-45)" text-anchor="end">sgUHRF1</text>
<line x1="1220" y1="1548" x2="1310" y2="1548" stroke="#000" stroke-width="2"/>
<line x1="1328" y1="1548" x2="1405" y2="1548" stroke="#000" stroke-width="2"/>
<text class="xl" x="1250" y="1566" text-anchor="middle">Isotype</text>
<text class="xl" x="1365" y="1566" text-anchor="middle">anti-APN</text>
</svg>
</body></html>
